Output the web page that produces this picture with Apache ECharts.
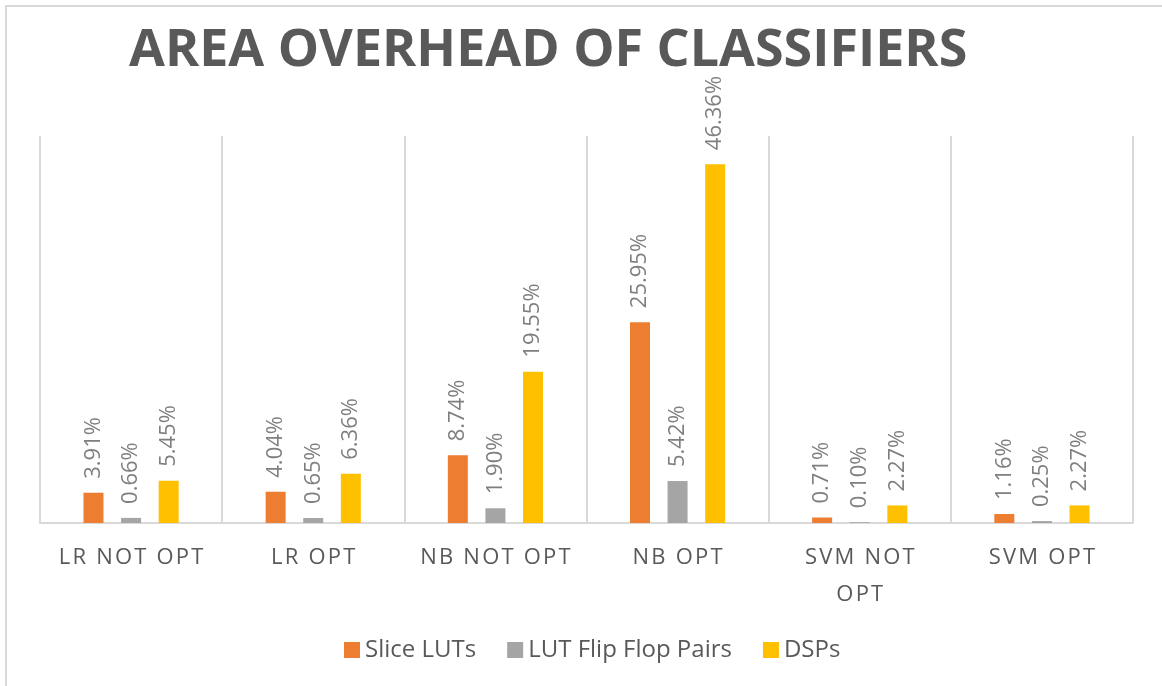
<!DOCTYPE html>
<html>
<head>
<meta charset="utf-8">
<title>Area Overhead of Classifiers</title>
<script src="https://cdn.jsdelivr.net/npm/echarts@6/dist/echarts.min.js"></script>
<style>
  html, body { margin: 0; padding: 0; background: #ffffff; }
  #chart { width: 1162px; height: 686px; }
</style>
</head>
<body>
<div id="chart"></div>
<script>
// Classifier variants (the SVM label is split over two lines)
const categories = ['LR NOT OPT', 'LR OPT', 'NB NOT OPT', 'NB OPT', 'SVM NOT\nOPT', 'SVM OPT'];

// Area overhead per resource type, in percent
const sliceLUTs        = [3.91, 4.04, 8.74, 25.95, 0.71, 1.16];
const lutFlipFlopPairs = [0.66, 0.65, 1.90, 5.42, 0.10, 0.25];
const dsps             = [5.45, 6.36, 19.55, 46.36, 2.27, 2.27];

const seriesNames = ['Slice LUTs', 'LUT Flip Flop Pairs', 'DSPs'];
const seriesColors = ['#ED7D31', '#A5A5A5', '#FFC000'];

const FONT = '"Open Sans", "Noto Sans", sans-serif';
const HAIR = '\u200A';

// spread the letters of an axis label apart, line by line
function spaced(text) {
  return text.split('\n').map(line => line.split('').join(HAIR)).join('\n');
}

function barSeries(name, values, color) {
  return {
    name: name,
    type: 'bar',
    data: values,
    barWidth: 20,
    barGap: '88%',
    itemStyle: { color: color },
    label: {
      show: true,
      position: 'top',
      distance: 14,
      rotate: 90,
      align: 'left',
      verticalAlign: 'middle',
      color: '#7F7F7F',
      fontFamily: FONT,
      fontSize: 22,
      formatter: p => p.value.toFixed(2) + '%'
    }
  };
}

const chart = echarts.init(document.getElementById('chart'), null, { renderer: 'canvas' });

chart.setOption({
  backgroundColor: '#ffffff',
  animation: false,
  graphic: [{
    type: 'rect',
    shape: { x: 6, y: 6, width: 1200, height: 720 },
    style: { fill: 'none', stroke: '#D9D9D9', lineWidth: 2 },
    silent: true
  }],
  title: {
    text: 'AREA OVERHEAD OF CLASSIFIERS',
    left: 124,
    top: 20,
    textStyle: {
      fontFamily: FONT,
      fontWeight: 'bold',
      fontSize: 52,
      color: '#595959'
    }
  },
  legend: {
    bottom: 19,
    left: 339,
    itemWidth: 16,
    itemHeight: 16,
    itemGap: 31,
    icon: 'rect',
    textStyle: { fontFamily: FONT, fontSize: 24, color: '#595959', padding: [0, 0, 0, 0] },
    data: seriesNames
  },
  grid: { left: 40, right: 29, top: 136, bottom: 163, containLabel: false },
  xAxis: {
    type: 'category',
    data: categories,
    axisLine: { show: true, lineStyle: { color: '#D9D9D9', width: 2 } },
    axisTick: { show: false },
    splitLine: { show: true, interval: 0, lineStyle: { color: '#D9D9D9', width: 2 } },
    axisLabel: {
      interval: 0,
      margin: 16,
      fontFamily: FONT,
      fontSize: 22,
      lineHeight: 37,
      color: '#595959',
      formatter: v => spaced(v)
    }
  },
  yAxis: {
    type: 'value',
    min: 0,
    max: 50,
    show: false,
    splitLine: { show: false }
  },
  series: [
    barSeries(seriesNames[0], sliceLUTs, seriesColors[0]),
    barSeries(seriesNames[1], lutFlipFlopPairs, seriesColors[1]),
    barSeries(seriesNames[2], dsps, seriesColors[2])
  ]
});
</script>
</body>
</html>
